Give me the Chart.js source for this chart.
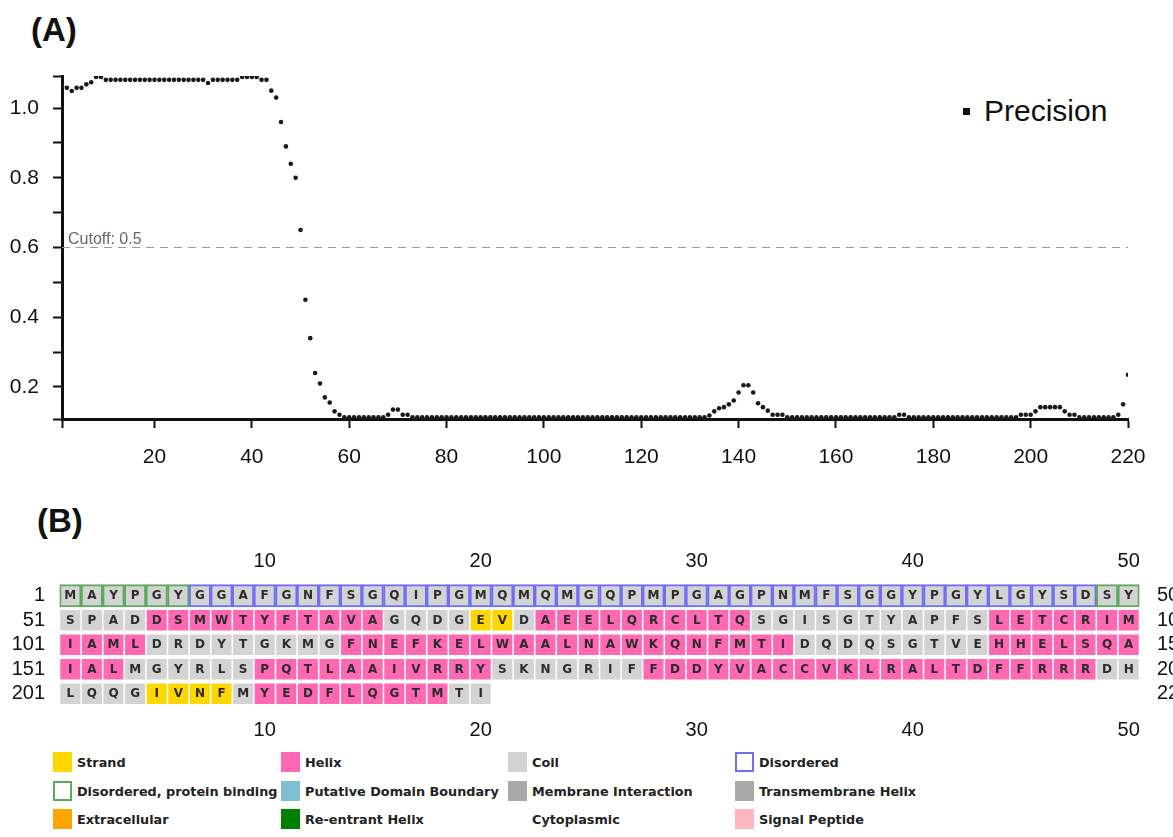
<!DOCTYPE html>
<html>
<head>
<meta charset="utf-8">
<title>Precision and secondary structure</title>
<script src="https://cdn.jsdelivr.net/npm/chart.js@4.4.1/dist/chart.umd.min.js"></script>
<style>
  body { margin: 0; background: #fff; width: 1173px; height: 837px; overflow: hidden; position: relative;
         font-family: "Liberation Sans", Arial, sans-serif; color: #111; }
  #chartA { position: absolute; left: 0; top: 0; }
  #chartB { position: absolute; left: 0; top: 540px; }
  .panel { position: absolute; font-weight: bold; font-size: 33px; line-height: 33px; }
  .precLegend { position: absolute; left: 963px; top: 93px; height: 36px; display: flex; align-items: center;
                font-size: 30px; }
  .precLegend i { display: inline-block; width: 7px; height: 7px; background: #111; margin-right: 14px; }
  .lg { position: absolute; height: 20px; display: flex; align-items: center; white-space: nowrap;
        font-family: "DejaVu Sans", sans-serif; font-weight: bold; font-size: 12.8px; color: #222; }
  .lg span { display: inline-block; width: 19px; height: 20px; margin-right: 5px; box-sizing: border-box; }
</style>
</head>
<body>
<div class="panel" style="left:31px; top:13px">(A)</div>
<div class="panel" style="left:37px; top:504px">(B)</div>
<div class="precLegend"><i></i>Precision</div>

<canvas id="chartA" width="1173" height="490"></canvas>
<canvas id="chartB" width="1173" height="200"></canvas>

<div class="lg" style="left:53px; top:752px"><span style="background:#ffd700"></span>Strand</div>
<div class="lg" style="left:281px; top:752px"><span style="background:#ff69b4"></span>Helix</div>
<div class="lg" style="left:508px; top:752px"><span style="background:#d3d3d3"></span>Coil</div>
<div class="lg" style="left:735px; top:752px"><span style="border:2px solid #6f6ff5"></span>Disordered</div>
<div class="lg" style="left:53px; top:781px"><span style="border:2px solid #5fa85f"></span>Disordered, protein binding</div>
<div class="lg" style="left:281px; top:781px"><span style="background:#80bfd3"></span>Putative Domain Boundary</div>
<div class="lg" style="left:508px; top:781px"><span style="background:#a9a9a9"></span>Membrane Interaction</div>
<div class="lg" style="left:735px; top:781px"><span style="background:#a9a9a9"></span>Transmembrane Helix</div>
<div class="lg" style="left:53px; top:809px"><span style="background:#ffa500"></span>Extracellular</div>
<div class="lg" style="left:281px; top:809px"><span style="background:#008000"></span>Re-entrant Helix</div>
<div class="lg" style="left:508px; top:809px"><span></span>Cytoplasmic</div>
<div class="lg" style="left:735px; top:809px"><span style="background:#ffb6c1"></span>Signal Peptide</div>

<script>
// precision per residue (1..220)
var precision = [
  1.062, 1.058, 1.049, 1.058, 1.058, 1.068, 1.074, 1.089, 1.089, 1.081,
  1.081, 1.081, 1.081, 1.081, 1.081, 1.081, 1.081, 1.081, 1.081, 1.081,
  1.081, 1.081, 1.081, 1.081, 1.081, 1.081, 1.081, 1.081, 1.081, 1.081,
  1.072, 1.081, 1.081, 1.081, 1.081, 1.081, 1.081, 1.089, 1.089, 1.089,
  1.089, 1.081, 1.081, 1.050, 1.030, 0.960, 0.890, 0.840, 0.800, 0.650,
  0.450, 0.340, 0.240, 0.210, 0.170, 0.155, 0.130, 0.120, 0.113, 0.113,
  0.113, 0.113, 0.113, 0.113, 0.113, 0.113, 0.113, 0.120, 0.135, 0.135,
  0.120, 0.120, 0.113, 0.113, 0.113, 0.113, 0.113, 0.113, 0.113, 0.113,
  0.113, 0.113, 0.113, 0.113, 0.113, 0.113, 0.113, 0.113, 0.113, 0.113,
  0.113, 0.113, 0.113, 0.113, 0.113, 0.113, 0.113, 0.113, 0.113, 0.113,
  0.113, 0.113, 0.113, 0.113, 0.113, 0.113, 0.113, 0.113, 0.113, 0.113,
  0.113, 0.113, 0.113, 0.113, 0.113, 0.113, 0.113, 0.113, 0.113, 0.113,
  0.113, 0.113, 0.113, 0.113, 0.113, 0.113, 0.113, 0.113, 0.113, 0.113,
  0.113, 0.113, 0.113, 0.118, 0.130, 0.139, 0.142, 0.150, 0.161, 0.184,
  0.205, 0.205, 0.184, 0.153, 0.142, 0.132, 0.120, 0.120, 0.120, 0.113,
  0.113, 0.113, 0.113, 0.113, 0.113, 0.113, 0.113, 0.113, 0.113, 0.113,
  0.113, 0.113, 0.113, 0.113, 0.113, 0.113, 0.113, 0.113, 0.113, 0.113,
  0.113, 0.113, 0.120, 0.120, 0.113, 0.113, 0.113, 0.113, 0.113, 0.113,
  0.113, 0.113, 0.113, 0.113, 0.113, 0.113, 0.113, 0.113, 0.113, 0.113,
  0.113, 0.113, 0.113, 0.113, 0.113, 0.113, 0.113, 0.120, 0.120, 0.120,
  0.130, 0.142, 0.142, 0.142, 0.142, 0.142, 0.130, 0.120, 0.120, 0.113,
  0.113, 0.113, 0.113, 0.113, 0.113, 0.113, 0.113, 0.120, 0.150, 0.235
];
var cutoffLevel = 0.6;
var cutoffText = 'Cutoff: 0.5';
var xTickValues = [20, 40, 60, 80, 100, 120, 140, 160, 180, 200, 220];
var yTickValues = [0.2, 0.3, 0.4, 0.5, 0.6, 0.7, 0.8, 0.9, 1.0];

// panel B: sequence rows and secondary structure (C coil, H helix, E strand)
var sequence = [
  'MAYPGYGGAFGNFSGQIPGMQMQMGQPMPGAGPNMFSGGYPGYLGYSDSY',
  'SPADDSMWTYFTAVAGQDGEVDAEELQRCLTQSGISGTYAPFSLETCRIM',
  'IAMLDRDYTGKMGFNEFKELWAALNAWKQNFMTIDQDQSGTVEHHELSQA',
  'IALMGYRLSPQTLAAIVRRYSKNGRIFFDDYVACCVKLRALTDFFRRRDH',
  'LQQGIVNFMYEDFLQGTMTI'
];
var structure = [
  'CCCCCCCCCCCCCCCCCCCCCCCCCCCCCCCCCCCCCCCCCCCCCCCCCC',
  'CCCC' + 'HHHHHHHHHHH' + 'CCCC' + 'EE' + 'C' + 'HHHHHHHHHH' + 'CCCCCCCCCCC' + 'HHHHHHH',
  'HHHH' + 'CCCCCCCCC' + 'HHHHHHHHHHHHHHHHHHHHH' + 'CCCCCCCCC' + 'HHHHHHH',
  'HHH' + 'CCCCCC' + 'HHHHHHHHHHH' + 'CCCCCCC' + 'HHHHHHHHHHHHHHHHHHHHH' + 'CC',
  'CCCC' + 'EEEE' + 'C' + 'HHHHHHHHH' + 'CC'
];
var bindingRanges = [[1, 6], [49, 50]];   // disordered, protein binding (green box)
var disorderRanges = [[7, 48]];           // disordered (blue box)
var rowStarts = ['1', '51', '101', '151', '201'];
var rowEnds = ['50', '100', '150', '200', '220'];
var colTickLabels = [10, 20, 30, 40, 50];

var ssColors = { C: '#d3d3d3', H: '#ff69b4', E: '#ffd700' };

Chart.defaults.font.family = '"Liberation Sans", Arial, sans-serif';
Chart.defaults.color = '#111';

// ---------- panel A ----------
var cutoffLabel = {
  id: 'cutoffLabel',
  afterDatasetsDraw: function (chart) {
    var ctx = chart.ctx;
    var py = chart.scales.y.getPixelForValue(cutoffLevel);
    ctx.save();
    ctx.font = '16px "Liberation Sans", Arial, sans-serif';
    ctx.fillStyle = '#6e6272';
    ctx.textBaseline = 'alphabetic';
    ctx.fillText(cutoffText, chart.chartArea.left + 6, py - 4);
    ctx.restore();
  }
};

var points = [];
for (var i = 0; i < precision.length; i++) {
  points.push({ x: i + 1, y: precision[i] });
}

new Chart(document.getElementById('chartA'), {
  type: 'scatter',
  data: {
    datasets: [
      {
        label: 'Precision',
        data: points,
        pointRadius: 2.3,
        pointHoverRadius: 2.3,
        pointBackgroundColor: '#1a1a1a',
        pointBorderWidth: 0
      },
      {
        type: 'line',
        label: 'Cutoff',
        data: [{ x: 1, y: cutoffLevel }, { x: 220, y: cutoffLevel }],
        borderColor: '#9a9a9a',
        borderWidth: 1,
        borderDash: [8, 6],
        pointRadius: 0,
        fill: false
      }
    ]
  },
  options: {
    responsive: false,
    animation: false,
    devicePixelRatio: 1,
    events: [],
    layout: { padding: { top: 76, right: 45, left: 0, bottom: 0 } },
    plugins: { legend: { display: false }, tooltip: { enabled: false } },
    scales: {
      x: {
        type: 'linear', min: 1, max: 220,
        afterBuildTicks: function (s) {
          s.ticks = [1].concat(xTickValues).map(function (v) { return { value: v }; });
        },
        afterFit: function (s) { s.height = 71; },
        ticks: {
          autoSkip: false, maxRotation: 0, padding: 17, color: '#111',
          font: { size: 21 },
          callback: function (v) { return v === 1 ? '' : String(v); }
        },
        grid: { drawOnChartArea: false, tickLength: 9, tickWidth: 2, tickColor: '#111' },
        border: { width: 3, color: '#111' }
      },
      y: {
        type: 'linear', min: 0.108, max: 1.092,
        afterBuildTicks: function (s) {
          s.ticks = [s.min].concat(yTickValues, [s.max]).map(function (v) { return { value: v }; });
        },
        afterFit: function (s) { s.width = 62; },
        ticks: {
          autoSkip: false, padding: 14, color: '#111',
          font: { size: 21 },
          callback: function (v) {
            return Math.abs(v * 5 - Math.round(v * 5)) < 1e-6 ? v.toFixed(1) : '';
          }
        },
        grid: { drawOnChartArea: false, tickLength: 9, tickWidth: 2, tickColor: '#111' },
        border: { width: 3, color: '#111' }
      }
    }
  },
  plugins: [cutoffLabel]
});

// ---------- panel B ----------
var columns = [];
for (var c = 1; c <= 50; c++) columns.push(c);

function inRanges(n, ranges) {
  return ranges.some(function (r) { return n >= r[0] && n <= r[1]; });
}

var datasets = [];

// box outlines for the disordered stretch of row 1
datasets.push({
  label: 'disorder boxes',
  data: columns.map(function () { return [1 - 0.46, 1 + 0.46]; }),
  backgroundColor: 'rgba(0,0,0,0)',
  borderColor: columns.map(function (n) {
    if (inRanges(n, bindingRanges)) return '#5fa85f';
    if (inRanges(n, disorderRanges)) return '#6f6ff5';
    return 'rgba(0,0,0,0)';
  }),
  borderWidth: 1.4,
  borderSkipped: false,
  barPercentage: 1,
  categoryPercentage: 1,
  grouped: false
});

sequence.forEach(function (letters, r) {
  var boxed = r === 0;
  var half = boxed ? 0.4 : 0.42;
  datasets.push({
    label: 'residues ' + rowStarts[r] + '-' + rowEnds[r],
    letters: letters,
    data: columns.map(function (n) {
      return n <= letters.length ? [r + 1 - half, r + 1 + half] : null;
    }),
    backgroundColor: columns.map(function (n) {
      return ssColors[structure[r].charAt(n - 1)] || 'rgba(0,0,0,0)';
    }),
    borderWidth: 0,
    barPercentage: boxed ? 0.86 : 0.93,
    categoryPercentage: 1,
    grouped: false
  });
});

var residueLetters = {
  id: 'residueLetters',
  afterDatasetsDraw: function (chart) {
    var ctx = chart.ctx;
    ctx.save();
    ctx.font = 'bold 12px "DejaVu Sans", sans-serif';
    ctx.fillStyle = '#2b2b2b';
    ctx.textAlign = 'center';
    ctx.textBaseline = 'middle';
    chart.data.datasets.forEach(function (ds, di) {
      if (!ds.letters) return;
      chart.getDatasetMeta(di).data.forEach(function (el, j) {
        if (ds.data[j] == null) return;
        ctx.fillText(ds.letters.charAt(j), el.x, (el.y + el.base) / 2 + 0.5);
      });
    });
    ctx.restore();
  }
};

function colTick(v, idx) {
  return colTickLabels.indexOf(idx + 1) >= 0 ? String(idx + 1) : '';
}

new Chart(document.getElementById('chartB'), {
  type: 'bar',
  data: { labels: columns, datasets: datasets },
  options: {
    responsive: false,
    animation: false,
    devicePixelRatio: 1,
    events: [],
    layout: { padding: 0 },
    plugins: { legend: { display: false }, tooltip: { enabled: false } },
    scales: {
      x: {
        type: 'category', position: 'bottom', offset: true,
        afterFit: function (s) { s.height = 34; },
        grid: { display: false }, border: { display: false },
        ticks: { autoSkip: false, maxRotation: 0, padding: 4, font: { size: 20 }, color: '#111', callback: colTick }
      },
      xTop: {
        type: 'category', position: 'top', offset: true,
        afterFit: function (s) { s.height = 43.5; },
        grid: { display: false }, border: { display: false },
        ticks: { autoSkip: false, maxRotation: 0, padding: 2.5, font: { size: 20 }, color: '#111', callback: colTick }
      },
      y: {
        type: 'linear', position: 'left', min: 0.5, max: 5.5, reverse: true,
        afterBuildTicks: function (s) { s.ticks = [1, 2, 3, 4, 5].map(function (v) { return { value: v }; }); },
        afterFit: function (s) { s.width = 59.5; },
        grid: { display: false }, border: { display: false },
        ticks: { padding: 6.5, font: { size: 20 }, color: '#111',
                 callback: function (v) { return rowStarts[Math.round(v) - 1]; } }
      },
      yRight: {
        type: 'linear', position: 'right', min: 0.5, max: 5.5, reverse: true,
        afterBuildTicks: function (s) { s.ticks = [1, 2, 3, 4, 5].map(function (v) { return { value: v }; }); },
        afterFit: function (s) { s.width = 33.5; },
        grid: { display: false }, border: { display: false },
        ticks: { padding: 9.5, font: { size: 20 }, color: '#111',
                 callback: function (v) { return rowEnds[Math.round(v) - 1]; } }
      }
    }
  },
  plugins: [residueLetters]
});
</script>
</body>
</html>
